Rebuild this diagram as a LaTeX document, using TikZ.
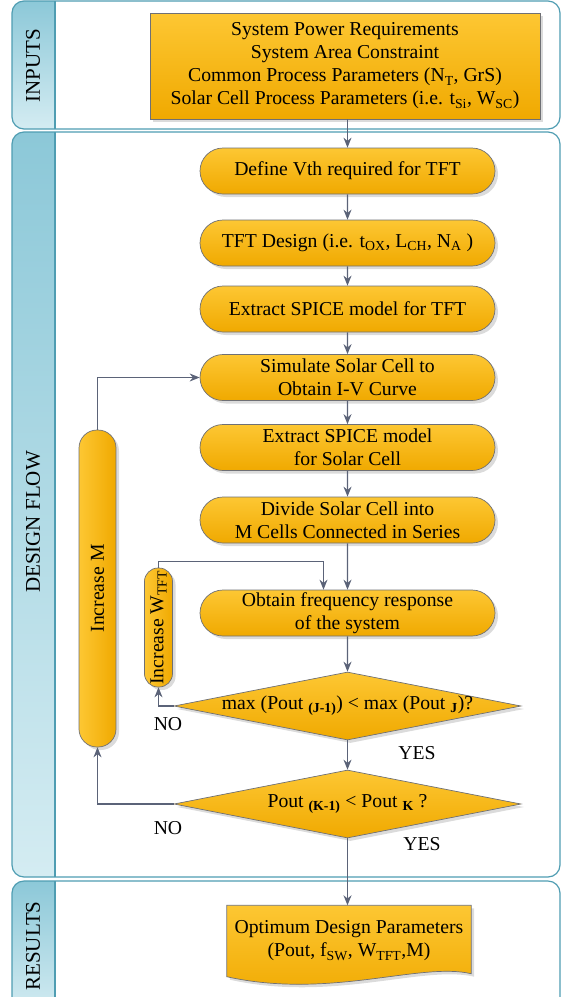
\documentclass[tikz,border=0pt]{standalone}
\usepackage{graphicx}
\usepackage{fontspec}
\setmainfont{Liberation Serif}
\usetikzlibrary{positioning,arrows.meta,shapes.geometric,shapes.misc,shadows,backgrounds}

\definecolor{laneedge}{HTML}{4F9DB2}
\definecolor{striptop}{HTML}{8CC8D8}
\definecolor{stripbot}{HTML}{D4ECF2}
\definecolor{boxtop}{HTML}{FDC733}
\definecolor{boxbot}{HTML}{F0A900}
\definecolor{boxedge}{HTML}{6F7075}
\definecolor{flowline}{HTML}{5B6378}

\begin{document}
\begin{tikzpicture}[x=1pt,y=-1pt,
  font=\fontsize{19.7}{23}\selectfont,
  shade box/.style={top color=boxtop,bottom color=boxbot,draw=boxedge,line width=0.7pt,
    drop shadow={shadow xshift=3pt,shadow yshift=-3pt,fill=black!28}},
  inbox/.style={shade box,rectangle,align=center,minimum width=390pt,minimum height=106pt,inner sep=2pt},
  procbox/.style={shade box,rounded rectangle,align=center,minimum width=299pt,minimum height=46pt,inner sep=2pt},
  loopbar/.style={shade box,left color=boxtop,right color=boxbot,rectangle,inner sep=1pt},
  decision/.style={shade box,diamond,minimum width=347pt,minimum height=68pt,inner sep=0pt},
  docnode/.style={align=center,minimum width=244pt,minimum height=71pt,inner sep=2pt},
  lane/.style={draw=laneedge,line width=1.2pt,rounded corners=12pt},
  lanetitle/.style={rotate=90,font=\fontsize{21}{24}\selectfont},
  flow/.style={draw=flowline,line width=1.3pt,-{Stealth[length=10pt,width=8pt]}},
  every edge/.style={flow},
]
  \useasboundingbox (0,0) rectangle (563,997);

  % Lanes
  \begin{scope}
    \clip[rounded corners=12pt] (12,1) rectangle (560,129);
    \shade[top color=striptop,bottom color=stripbot] (12,1) rectangle (55,129);
  \end{scope}
  \draw[lane] (12,1) rectangle (560,129);
  \draw[laneedge,line width=1.2pt] (55,1) -- (55,129);
  \node[lanetitle] (inputsT) at (33,66) {INPUTS};

  \begin{scope}
    \clip[rounded corners=12pt] (12,132) rectangle (560,877);
    \shade[top color=striptop,bottom color=stripbot] (12,132) rectangle (55,877);
  \end{scope}
  \draw[lane] (12,132) rectangle (560,877);
  \draw[laneedge,line width=1.2pt] (55,132) -- (55,877);
  \node[lanetitle] (flowT) at (33,522) {DESIGN FLOW};

  \begin{scope}
    \clip[rounded corners=12pt] (12,881) rectangle (560,1015);
    \shade[top color=striptop,bottom color=stripbot] (12,881) rectangle (55,1015);
  \end{scope}
  \draw[lane] (12,881) rectangle (560,1015);
  \draw[laneedge,line width=1.2pt] (55,881) -- (55,1015);
  \node[lanetitle] (resultsT) at (33,946) {RESULTS};

  % Inputs
  \node[inbox] (inputs) at (345,66) {System Power Requirements\\System Area Constraint\\
    Common Process Parameters (N\textsubscript{T}, GrS)\\
    Solar Cell Process Parameters (i.e. t\textsubscript{Si}, W\textsubscript{SC})};

  % Main column
  \node[procbox] (vth) at (347.5,171) {Define Vth required for TFT};
  \node[procbox] (tft) at (347.5,243) {TFT Design (i.e. t\textsubscript{OX}, L\textsubscript{CH}, N\textsubscript{A} )};
  \node[procbox] (spiceT) at (347.5,309) {Extract SPICE model for TFT};
  \node[procbox] (simcell) at (347.5,377.5) {Simulate Solar Cell to\\Obtain I-V Curve};
  \node[procbox] (spiceS) at (347.5,447.5) {Extract SPICE model\\for Solar Cell};
  \node[procbox] (divide) at (347.5,520) {Divide Solar Cell into\\M Cells Connected in Series};
  \node[procbox] (freq) at (347.5,613) {Obtain frequency response\\of the system};
  \node[decision] (maxJ) at (347.5,706) {\makebox[0pt]{max (Pout \textsubscript{\textbf{(J-1)}}) < max (Pout \textsubscript{\textbf{J}})?}};
  \node[decision] (powK) at (347.5,804) {\makebox[0pt]{Pout \textsubscript{\textbf{(K-1)}} < Pout \textsubscript{\textbf{K}} ?}};

  % Loops
  \node[loopbar,minimum width=37pt,minimum height=317pt,rounded corners=18pt] (incM) at (97.5,588.5) {\rotatebox{90}{Increase M}};
  \node[loopbar,minimum width=28pt,minimum height=119pt,rounded corners=13.5pt] (incW) at (158.5,627.5) {\rotatebox{90}{Increase W\textsubscript{TFT}}};

  % Results
  \node[docnode] (res) at (349,941) {Optimum Design Parameters\\(Pout, f\textsubscript{SW}, W\textsubscript{TFT},M)};
  \begin{scope}[on background layer]
    \path[shade box] (res.north west) -- (res.north east) -- ([yshift=3pt]res.south east)
      .. controls +(-51,-12) and +(103,23) .. (res.south west) -- cycle;
  \end{scope}

  % Labels
  \node (noJ) at (168,724) {NO};
  \node (yesJ) at (417,753) {YES};
  \node (noK) at (168,828) {NO};
  \node (yesK) at (422,844) {YES};

  % Edges
  \path (inputs.south -| vth.north) edge (vth.north);
  \path (vth) edge (tft);
  \path (tft) edge (spiceT);
  \path (spiceT) edge (simcell);
  \path (simcell) edge (spiceS);
  \path (spiceS) edge (divide);
  \path (divide) edge (freq);
  \path (freq) edge (maxJ);
  \path (maxJ) edge (powK);
  \path (powK.south) edge (res.north -| powK.south);

  \draw[flow] (maxJ.west) -| (incW.south);
  \draw[flow] (incW.north) -- ++(0,-6) -| ([xshift=-24pt]freq.north);
  \draw[flow] (powK.west) -| (incM.south);
  \draw[flow] (incM.north) |- (simcell.west);
\end{tikzpicture}
\end{document}
